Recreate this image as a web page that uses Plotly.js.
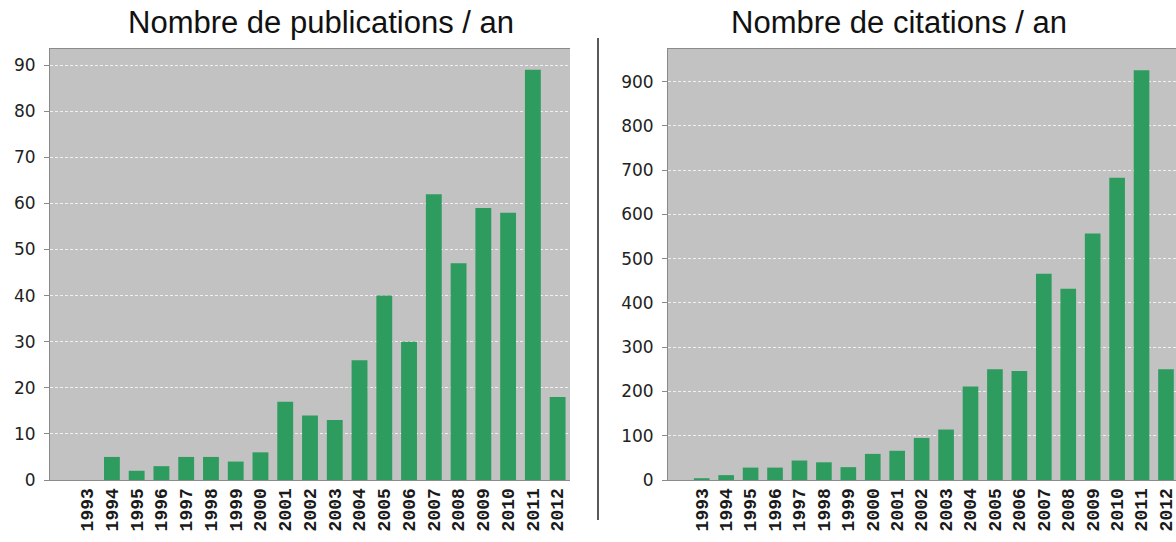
<!DOCTYPE html>
<html>
<head>
<meta charset="utf-8">
<script src="https://cdn.plot.ly/plotly-3.0.1.min.js"></script>
<style>html,body{margin:0;padding:0;background:#fff;}#chart{width:1176px;height:542px;}</style>
</head>
<body>
<div id="chart"></div>
<script>
const years = ["1993","1994","1995","1996","1997","1998","1999","2000","2001","2002","2003","2004","2005","2006","2007","2008","2009","2010","2011","2012"];
const publications = [0,5,2,3,5,5,4,6,17,14,13,26,40,30,62,47,59,58,89,18];
const citations = [4,11,28,28,44,40,29,59,66,95,114,211,250,246,466,432,557,683,926,250];
const pubTicks = [0,10,20,30,40,50,60,70,80,90];
const citTicks = [0,100,200,300,400,500,600,700,800,900];
const titles = ["Nombre de publications / an","Nombre de citations / an"];

const barColor = "#2e9b5f";
const bg = "#c2c2c2";
const W = 1176, H = 542, ML = 50, MR = 0, MT = 49, MB = 62;
const pw = W - ML - MR, ph = H - MT - MB;
const px = v => (v - ML) / pw;
const py = v => (H - MB - v) / ph;

const traces = [
  {type:"bar", x: years.map((y,i)=>i), y: publications, xaxis:"x", yaxis:"y",
   marker:{color:barColor}, width:0.64, hoverinfo:"skip"},
  {type:"bar", x: years.map((y,i)=>i), y: citations, xaxis:"x2", yaxis:"y2",
   marker:{color:barColor}, width:0.64, hoverinfo:"skip"}
];

const xCommon = {
  tickmode:"array", tickvals: years.map((y,i)=>i), ticktext: years,
  tickangle:-90, showgrid:false, zeroline:false,
  showline:true, linecolor:"#8a8a8a", linewidth:1, mirror:true,
  ticks:"", ticklabeloverflow:"allow",
  tickfont:{family:"Liberation Mono", size:18, color:"#1a1a1a", weight:"bold"},
  fixedrange:true
};
const yCommon = {
  tickmode:"array", showgrid:true, gridcolor:"#f0f0f0", griddash:"3px,2px", gridwidth:1,
  zeroline:false, showline:true, linecolor:"#8a8a8a", linewidth:1,
  ticks:"outside", ticklen:5, tickcolor:"#8a8a8a", ticklabelstandoff:5,
  tickfont:{family:"DejaVu Sans", size:17, color:"#222"}, fixedrange:true
};

const layout = {
  width:W, height:H, margin:{l:ML, r:MR, t:MT, b:MB},
  paper_bgcolor:"#ffffff", plot_bgcolor:bg, showlegend:false, bargap:0.36,
  xaxis: Object.assign({}, xCommon, {domain:[0, px(570)], range:[-1.5, 19.5], anchor:"y"}),
  yaxis: Object.assign({}, yCommon, {domain:[0,1], range:[0, 93.5], tickvals:pubTicks, anchor:"x"}),
  xaxis2: Object.assign({}, xCommon, {domain:[px(668), 1], range:[-1.38, 19.41], anchor:"y2"}),
  yaxis2: Object.assign({}, yCommon, {domain:[0,1], range:[0, 973.8], tickvals:citTicks, anchor:"x2"}),
  annotations: [
    {text:titles[0], xref:"paper", yref:"paper", x:px(321), y:py(23), xanchor:"center", yanchor:"middle",
     showarrow:false, font:{family:"Liberation Sans", size:31, color:"#111"}},
    {text:titles[1], xref:"paper", yref:"paper", x:px(899), y:py(23), xanchor:"center", yanchor:"middle",
     showarrow:false, font:{family:"Liberation Sans", size:31, color:"#111"}}
  ],
  shapes: [
    {type:"line", xref:"paper", yref:"paper", x0:px(598), x1:px(598), y0:py(38), y1:py(520),
     line:{color:"#222", width:1.5}}
  ]
};

Plotly.newPlot("chart", traces, layout, {staticPlot:true, displayModeBar:false});
</script>
</body>
</html>
